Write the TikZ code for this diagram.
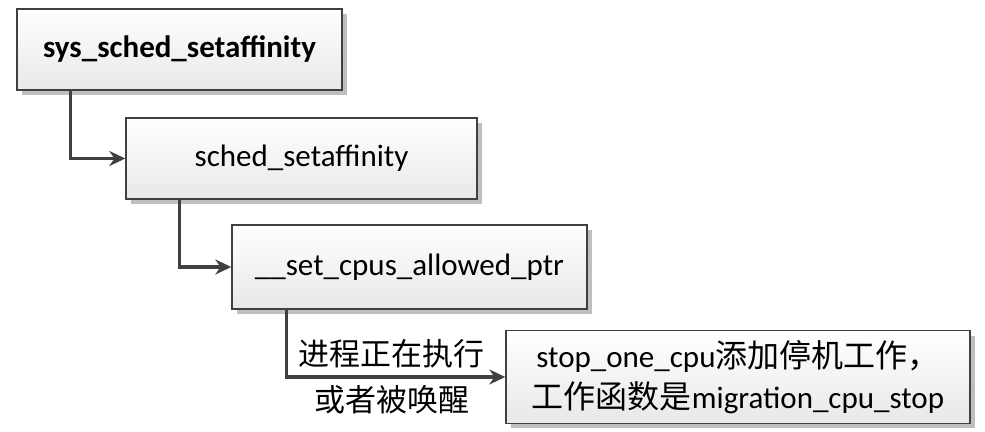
\documentclass[tikz,border=0pt]{standalone}
\usepackage{fontspec}
\setmainfont{Carlito}
\newfontfamily\cjk{Noto Sans CJK SC}
\usetikzlibrary{arrows.meta, shadows}
\tikzset{
  funcnode/.style = {shape=rectangle, draw=black!75, line width=0.7pt,
                     anchor=center, align=center,
                     top color=white, bottom color=gray!18,
                     drop shadow={shadow xshift=2.5pt, shadow yshift=-2.5pt,
                                  fill=gray!50, opacity=1},
                     inner sep=1ex, font=\fontsize{15.5}{18}\selectfont},
  arrow/.style = {line width=1.8pt, draw=black!75, ->,
                  >={Stealth[length=8pt, width=7.5pt]}}
}
\begin{document}
\begin{tikzpicture}[x=0.5pt, y=-0.5pt]
            \useasboundingbox (0,0) rectangle (985,432);
            \node (sys) [funcnode, minimum width=162.5pt, minimum height=40.5pt] at (179.5,49.5) {\textbf{sys\_sched\_setaffinity}};
            \node (sched) [funcnode, minimum width=175.5pt, minimum height=40.5pt] at (301.5,158.5) {sched\_setaffinity};
            \node (setcpus) [funcnode, minimum width=177.5pt, minimum height=42pt] at (409.5,267) {\_\_set\_cpus\_allowed\_ptr};
            \node (stop) [funcnode, minimum width=232pt, minimum height=42pt, font=\fontsize{15.5}{20.5}\selectfont] at (738,377) {stop\_one\_cpu{\cjk\fontsize{16}{20.5}\selectfont 添加停机工作，}\\{\cjk\fontsize{16}{20.5}\selectfont 工作函数是}migration\_cpu\_stop};

            \draw [arrow] ([xshift=27pt]sys.south west) |- (sched.west);
            \draw [arrow] ([xshift=27pt]sched.south west) |- (setcpus.west);
            \draw [arrow] ([xshift=27.5pt]setcpus.south west) |- node[pos=0.75, anchor=south, xshift=-2pt, font=\cjk\fontsize{15.5}{19}\selectfont] {进程正在执行}
                node[pos=0.75, anchor=north, xshift=-2pt, font=\cjk\fontsize{15.5}{19}\selectfont] {或者被唤醒} (stop.west);
        \end{tikzpicture}
\end{document}
